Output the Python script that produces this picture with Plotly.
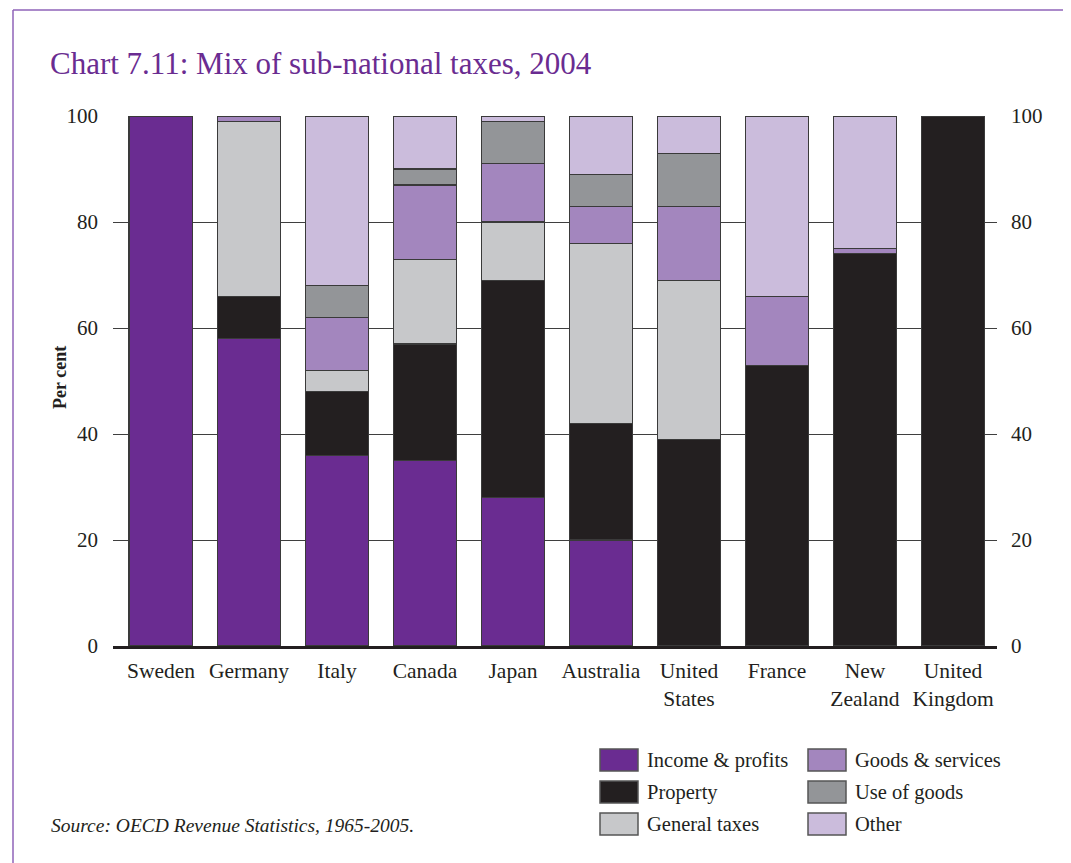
import plotly.graph_objects as go

# data (per cent of sub-national tax revenue)
countries = ["Sweden", "Germany", "Italy", "Canada", "Japan", "Australia",
             "United<br>States", "France", "New<br>Zealand", "United<br>Kingdom"]
income = [100, 58, 36, 35, 28, 20, 0, 0, 0, 0]
property_tax = [0, 8, 12, 22, 41, 22, 39, 53, 74, 100]
general = [0, 33, 4, 16, 11, 34, 30, 0, 0, 0]
goods = [0, 1, 10, 14, 11, 7, 14, 13, 1, 0]
use_of_goods = [0, 0, 6, 3, 8, 6, 10, 0, 0, 0]
other = [0, 0, 32, 10, 1, 11, 7, 34, 25, 0]

series_names = ["Income & profits", "Property", "General taxes",
                "Goods & services", "Use of goods", "Other"]
series_values = [income, property_tax, general, goods, use_of_goods, other]
series_colors = ["#6a2c91", "#231f20", "#c7c8ca", "#a386be", "#939598", "#cbbcdc"]

y_ticks = [0, 20, 40, 60, 80, 100]

FONT = "Liberation Serif"
W, H = 1071, 863
OFF = 8  # page body margin
# plot area in screen pixels: x 113..997, y 116..646
L, R = 113 - OFF, W - (997 - OFF)
T, B = 116 - OFF, H - (646 - OFF)
PW, PH = W - L - R, H - T - B


def px_x(px):
    return (px - OFF - L) / PW


def px_y(py):
    return (H - B - (py - OFF)) / PH


fig = go.Figure()

for name, vals, col in zip(series_names, series_values, series_colors):
    fig.add_trace(go.Bar(
        x=countries,
        y=[v if v else None for v in vals],
        name=name,
        marker=dict(color=col, line=dict(color="#3a3a3a", width=1.2)),
        showlegend=False,
    ))

# dummy trace so the right-hand axis gets drawn
fig.add_trace(go.Scatter(x=[countries[0]], y=[0], yaxis="y2", mode="markers",
                         marker=dict(opacity=0), showlegend=False, hoverinfo="skip"))

fig.update_layout(
    width=W, height=H,
    margin=dict(l=L, r=R, t=T, b=B),
    barmode="stack",
    bargap=0.276,
    plot_bgcolor="white",
    paper_bgcolor="white",
    font=dict(family=FONT, color="#231f20", size=21),
    title=dict(text="Chart 7.11: Mix of sub-national taxes, 2004",
               x=(50 - OFF) / W, xref="container", xanchor="left",
               y=1 - (63 - OFF) / H, yref="container", yanchor="middle",
               font=dict(family=FONT, size=31, color="#6a2c91")),
    xaxis=dict(showgrid=False, showline=True, linecolor="#231f20", linewidth=2.5,
               ticks="", tickfont=dict(size=21.5), ticklabelstandoff=3),
    yaxis=dict(range=[0, 100], tickvals=y_ticks, showgrid=True,
               gridcolor="#3f3f3f", gridwidth=1.3, zeroline=False,
               ticks="", ticklabelstandoff=14, tickfont=dict(size=21)),
    yaxis2=dict(range=[0, 100], tickvals=y_ticks, overlaying="y", side="right",
                showgrid=False, zeroline=False, ticks="", ticklabelstandoff=13,
                tickfont=dict(size=21)),
)

# y axis title placed by hand
fig.add_annotation(x=px_x(60), y=px_y(378), xref="paper", yref="paper",
                   text="<b>Per cent</b>", textangle=-90, showarrow=False,
                   xanchor="center", yanchor="middle",
                   font=dict(family=FONT, size=18, color="#231f20"))

# purple frame (top and left edges)
fig.add_shape(type="line", xref="paper", yref="paper",
              x0=px_x(13), y0=px_y(10), x1=px_x(W + 20), y1=px_y(10),
              line=dict(color="#8f63b8", width=1.5))
fig.add_shape(type="line", xref="paper", yref="paper",
              x0=px_x(13), y0=px_y(10), x1=px_x(13), y1=px_y(H + 20),
              line=dict(color="#8f63b8", width=1.5))

# legend drawn by hand: two columns of three
legend_cols = [600, 808]
legend_rows = [760, 792, 824]
for i, (name, col) in enumerate(zip(series_names, series_colors)):
    cx = legend_cols[i // 3]
    cy = legend_rows[i % 3]
    fig.add_shape(type="rect", xref="paper", yref="paper",
                  x0=px_x(cx), x1=px_x(cx + 38),
                  y0=px_y(cy - 11), y1=px_y(cy + 11),
                  fillcolor=col, line=dict(color="#555555", width=1.5))
    fig.add_annotation(x=px_x(cx + 45), y=px_y(cy), xref="paper", yref="paper",
                       text=name, showarrow=False, xanchor="left", yanchor="middle",
                       font=dict(family=FONT, size=20.5, color="#231f20"))

fig.add_annotation(x=px_x(49), y=px_y(825), xref="paper", yref="paper",
                   text="<i>Source: OECD Revenue Statistics, 1965-2005.</i>",
                   showarrow=False, xanchor="left", yanchor="middle",
                   font=dict(family=FONT, size=19.5, color="#231f20"))

fig.write_html("out.html")
